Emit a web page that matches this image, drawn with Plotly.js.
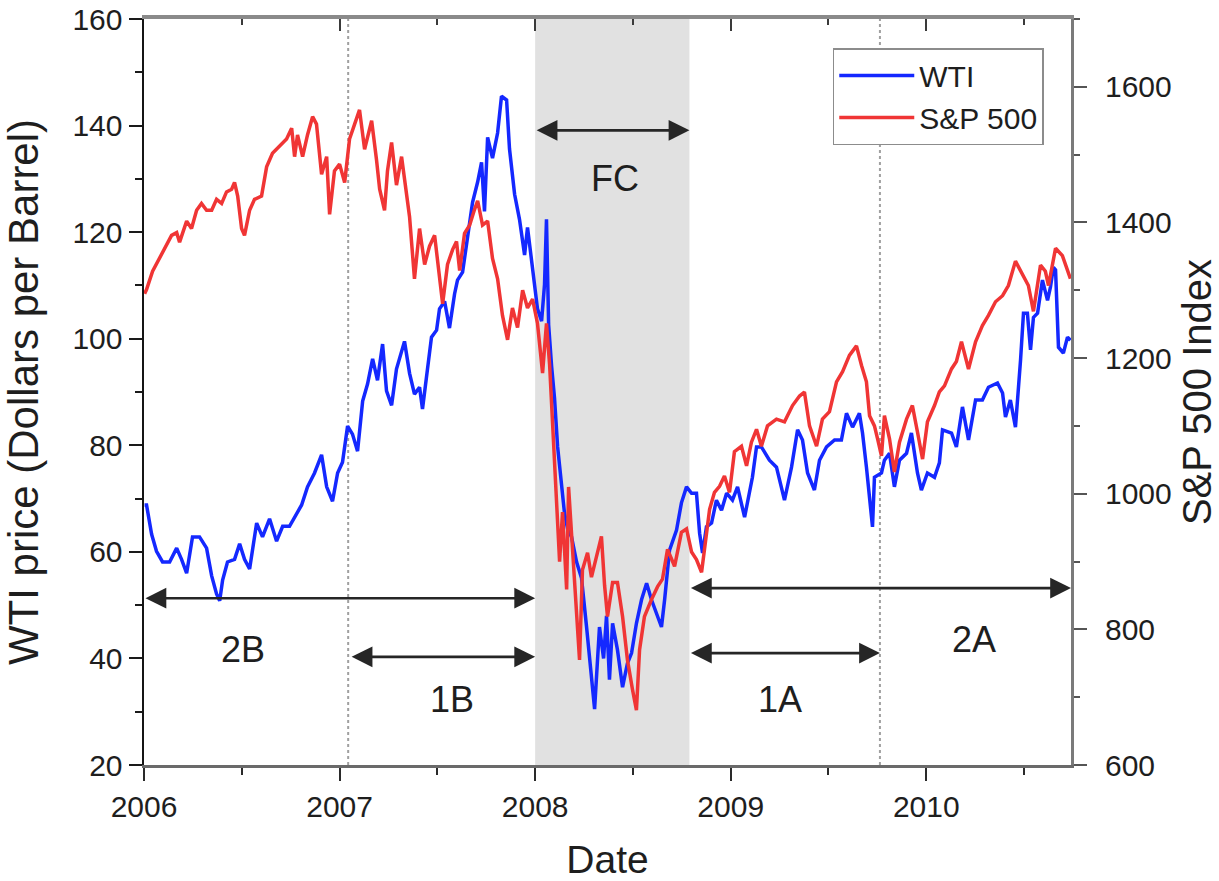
<!DOCTYPE html>
<html>
<head>
<meta charset="utf-8">
<script src="https://cdn.plot.ly/plotly-3.0.1.min.js"></script>
<style>html,body{margin:0;padding:0;background:#fff;}#chart{width:1219px;height:881px;}</style>
</head>
<body>
<div id="chart"></div>
<script>
// ---- data (decimal years) ----
const wtiYear = [2006.003,2006.013,2006.039,2006.064,2006.095,2006.131,2006.167,2006.192,2006.218,2006.248,2006.284,2006.320,2006.346,2006.371,2006.387,2006.402,2006.427,2006.463,2006.489,2006.514,2006.540,2006.576,2006.606,2006.642,2006.678,2006.709,2006.744,2006.780,2006.806,2006.836,2006.872,2006.908,2006.934,2006.964,2006.990,2007.015,2007.041,2007.066,2007.092,2007.118,2007.143,2007.169,2007.194,2007.220,2007.240,2007.266,2007.291,2007.332,2007.358,2007.383,2007.409,2007.424,2007.445,2007.470,2007.496,2007.511,2007.537,2007.562,2007.588,2007.603,2007.629,2007.654,2007.680,2007.706,2007.726,2007.741,2007.757,2007.782,2007.808,2007.828,2007.854,2007.869,2007.895,2007.920,2007.946,2007.961,2007.982,2007.997,2008.012,2008.033,2008.048,2008.058,2008.069,2008.084,2008.099,2008.115,2008.135,2008.150,2008.166,2008.186,2008.212,2008.237,2008.263,2008.278,2008.304,2008.329,2008.350,2008.365,2008.380,2008.396,2008.421,2008.447,2008.472,2008.493,2008.518,2008.544,2008.570,2008.595,2008.626,2008.646,2008.662,2008.687,2008.723,2008.748,2008.774,2008.800,2008.825,2008.841,2008.856,2008.876,2008.902,2008.927,2008.953,2008.979,2009.009,2009.035,2009.071,2009.096,2009.111,2009.132,2009.157,2009.198,2009.234,2009.275,2009.311,2009.342,2009.367,2009.393,2009.428,2009.454,2009.490,2009.531,2009.566,2009.592,2009.623,2009.658,2009.674,2009.694,2009.710,2009.725,2009.735,2009.771,2009.786,2009.812,2009.837,2009.863,2009.899,2009.924,2009.955,2009.975,2010.006,2010.042,2010.067,2010.083,2010.129,2010.154,2010.185,2010.216,2010.252,2010.287,2010.318,2010.364,2010.390,2010.405,2010.430,2010.456,2010.482,2010.497,2010.517,2010.533,2010.548,2010.569,2010.594,2010.620,2010.635,2010.650,2010.661,2010.676,2010.701,2010.722,2010.737];
const wtiPrice = [68.8,68.8,63.3,60.1,58.1,58.1,60.7,58.6,56.0,62.8,62.8,60.7,55.5,52.1,50.8,54.7,58.1,58.6,61.5,58.6,56.8,65.4,62.8,66.2,62.0,64.8,64.8,67.0,68.8,72.2,74.8,78.2,72.2,69.5,74.8,76.8,83.6,82.1,78.9,88.3,91.5,96.2,92.2,99.0,90.2,87.5,94.3,99.5,93.5,89.6,90.9,86.8,93.0,100.3,101.6,105.6,107.0,102.0,108.4,111.0,112.5,119.4,125.6,129.4,133.1,123.9,137.8,133.9,138.6,145.5,144.8,135.6,127.1,122.4,115.7,120.9,114.7,110.2,105.6,103.3,110.2,122.4,102.6,94.9,88.9,79.7,72.0,67.3,64.3,62.8,58.1,55.1,45.9,39.7,30.5,45.9,40.0,48.0,36.0,46.6,41.6,34.6,39.1,41.0,46.6,51.0,54.1,51.0,47.8,45.9,51.0,60.3,64.1,69.2,72.2,71.0,71.0,63.5,59.8,64.7,65.4,69.7,67.8,71.0,69.7,72.2,66.5,71.0,74.0,79.7,79.7,77.2,75.9,69.7,75.9,82.9,81.0,74.8,71.6,77.2,79.7,81.0,81.0,86.0,83.4,86.0,82.3,75.9,69.7,64.7,74.0,74.8,77.2,78.5,72.2,77.2,78.5,82.3,74.8,71.6,74.8,74.0,76.7,82.9,82.3,79.7,87.2,81.0,88.5,88.5,90.9,91.7,89.8,85.3,88.5,83.4,96.0,104.8,104.8,97.9,104.0,104.8,111.0,107.2,109.7,113.4,112.9,98.4,97.3,100.3,99.7];

const spYear = [2006.003,2006.013,2006.044,2006.080,2006.105,2006.141,2006.167,2006.182,2006.218,2006.243,2006.269,2006.294,2006.320,2006.346,2006.371,2006.397,2006.422,2006.448,2006.463,2006.479,2006.499,2006.514,2006.540,2006.565,2006.601,2006.627,2006.657,2006.693,2006.729,2006.755,2006.770,2006.785,2006.811,2006.836,2006.862,2006.882,2006.908,2006.934,2006.949,2006.974,2007.000,2007.026,2007.051,2007.077,2007.102,2007.128,2007.164,2007.189,2007.205,2007.230,2007.245,2007.266,2007.291,2007.317,2007.343,2007.358,2007.383,2007.409,2007.435,2007.460,2007.486,2007.511,2007.527,2007.552,2007.578,2007.598,2007.614,2007.639,2007.665,2007.690,2007.706,2007.731,2007.757,2007.782,2007.808,2007.833,2007.859,2007.884,2007.910,2007.936,2007.961,2007.987,2008.012,2008.038,2008.058,2008.074,2008.089,2008.109,2008.125,2008.140,2008.161,2008.171,2008.191,2008.212,2008.227,2008.242,2008.268,2008.288,2008.314,2008.339,2008.355,2008.370,2008.396,2008.421,2008.447,2008.472,2008.498,2008.518,2008.534,2008.559,2008.595,2008.626,2008.651,2008.677,2008.713,2008.748,2008.774,2008.800,2008.825,2008.851,2008.866,2008.892,2008.917,2008.943,2008.968,2008.994,2009.019,2009.055,2009.081,2009.106,2009.132,2009.157,2009.188,2009.234,2009.275,2009.316,2009.352,2009.377,2009.403,2009.439,2009.469,2009.505,2009.541,2009.572,2009.607,2009.643,2009.669,2009.694,2009.710,2009.735,2009.751,2009.771,2009.786,2009.812,2009.837,2009.863,2009.899,2009.929,2009.955,2009.981,2010.006,2010.042,2010.067,2010.093,2010.129,2010.154,2010.180,2010.216,2010.252,2010.287,2010.318,2010.354,2010.390,2010.420,2010.456,2010.492,2010.522,2010.548,2010.584,2010.609,2010.625,2010.661,2010.696,2010.737];
const spIndex = [1295,1301,1328,1348,1360,1381,1385,1371,1402,1391,1418,1428,1418,1418,1434,1428,1445,1449,1459,1439,1391,1381,1418,1434,1439,1482,1502,1513,1523,1539,1497,1529,1497,1529,1556,1545,1471,1497,1412,1476,1486,1459,1523,1545,1566,1508,1550,1492,1449,1418,1476,1518,1455,1497,1439,1408,1317,1391,1338,1365,1381,1323,1280,1338,1360,1372,1329,1384,1396,1419,1432,1396,1402,1347,1317,1263,1227,1274,1245,1300,1274,1287,1251,1178,1251,1190,1106,1010,900,973,859,1010,920,841,755,888,913,877,906,937,865,819,869,869,819,755,711,681,770,819,844,863,874,918,893,943,948,914,903,884,918,977,1002,1011,1026,1002,1062,1070,1041,1076,1095,1070,1100,1110,1106,1130,1144,1150,1100,1070,1110,1121,1165,1180,1204,1218,1189,1165,1115,1100,1081,1056,1115,1081,1032,1076,1110,1130,1091,1051,1106,1130,1150,1159,1184,1195,1224,1184,1224,1248,1263,1283,1292,1307,1343,1322,1307,1269,1337,1328,1307,1362,1351,1317];

// periods and labels
const periodNames = ['FC','2B','1B','1A','2A'];
const periodStart = [2008.0, 2006.0, 2007.054, 2008.789, 2008.789];
const periodEnd   = [2008.789, 2008.0, 2008.0, 2009.763, 2010.74];
const arrowLevel  = [139.1, 51.3, 40.3, 41.0, 53.2];
const labelX      = [2008.41, 2006.506, 2007.573, 2009.25, 2010.246];
const labelY      = [130.0, 41.6, 32.2, 32.2, 43.5];
const crisisBand  = [2008.0, 2008.789];
const markerLines = [2007.044, 2009.763];
const xTicks = [2006, 2007, 2008, 2009, 2010];

const FONT = '"Liberation Sans", Arial, Helvetica, sans-serif';
const TXT = '#1e1e1e';

const traces = [
  {x: wtiYear, y: wtiPrice, type: 'scatter', mode: 'lines', name: 'WTI',
   line: {color: '#1428ff', width: 3.5}, xaxis: 'x', yaxis: 'y'},
  {x: spYear, y: spIndex, type: 'scatter', mode: 'lines', name: 'S&P 500',
   line: {color: '#f03535', width: 3.5}, xaxis: 'x', yaxis: 'y2'},
  // empty trace so that the mirrored top axis (inward ticks) is drawn
  {x: [], y: [], type: 'scatter', mode: 'lines', xaxis: 'x2', yaxis: 'y',
   showlegend: false, hoverinfo: 'skip'}
];

const shapes = [
  {type: 'rect', xref: 'x', yref: 'paper', x0: crisisBand[0], x1: crisisBand[1], y0: 0, y1: 1,
   fillcolor: '#e1e1e1', line: {width: 0}, layer: 'below'}
];
markerLines.forEach(v => shapes.push({type: 'line', xref: 'x', yref: 'paper', x0: v, x1: v, y0: 0, y1: 1,
  line: {color: '#a0a0a0', width: 2, dash: 'dot'}, layer: 'below'}));

const annotations = [];
periodNames.forEach((n, i) => {
  annotations.push({x: periodEnd[i], y: arrowLevel[i], ax: periodStart[i], ay: arrowLevel[i],
    xref: 'x', yref: 'y', axref: 'x', ayref: 'y', text: '', showarrow: true,
    arrowhead: 2, startarrowhead: 2, arrowside: 'end+start', arrowsize: 1.6, startarrowsize: 1.6,
    arrowwidth: 2.6, arrowcolor: '#262626', standoff: 0, startstandoff: 0});
  annotations.push({x: labelX[i], y: labelY[i], xref: 'x', yref: 'y', text: n, showarrow: false,
    font: {family: FONT, size: 36, color: TXT}});
});

const layout = {
  width: 1219, height: 881,
  margin: {l: 144, r: 148, t: 19, b: 116, pad: 0},
  paper_bgcolor: '#fff', plot_bgcolor: '#fff',
  font: {family: FONT, size: 30, color: TXT},
  showlegend: true,
  legend: {x: 0.743, y: 0.961, xanchor: 'left', yanchor: 'top', bgcolor: '#fff',
    bordercolor: '#8c8c8c', borderwidth: 1.5, font: {family: FONT, size: 30, color: TXT},
    itemwidth: 75, tracegroupgap: 0},
  xaxis: {
    range: [2006, 2010.74], tickvals: xTicks, ticktext: xTicks.map(String),
    ticks: 'outside', ticklen: 13, tickwidth: 2, tickcolor: '#2a2a2a',
    minor: {dtick: 0.5, tick0: 2006, ticks: 'outside', ticklen: 7, tickwidth: 2, tickcolor: '#2a2a2a'},
    showline: true, linecolor: '#6a6a6a', linewidth: 3, showgrid: false, zeroline: false,
    tickfont: {size: 30}, title: {text: 'Date', font: {size: 39}}
  },
  xaxis2: {
    overlaying: 'x', side: 'top', anchor: 'y', range: [2006, 2010.74], tickvals: xTicks,
    ticks: 'inside', ticklen: 12, tickwidth: 2, tickcolor: '#3a3a3a', showticklabels: false,
    minor: {dtick: 0.5, tick0: 2006, ticks: 'inside', ticklen: 6, tickwidth: 2, tickcolor: '#3a3a3a'},
    showline: true, linecolor: '#8a8a8a', linewidth: 4, showgrid: false, zeroline: false
  },
  yaxis: {
    range: [20, 160], dtick: 20, tick0: 20, ticks: 'outside', ticklen: 13, tickwidth: 2, tickcolor: '#1a1a1a',
    minor: {dtick: 10, tick0: 20, ticks: 'outside', ticklen: 7, tickwidth: 2, tickcolor: '#1a1a1a'},
    showline: true, linecolor: '#151515', linewidth: 2.5, showgrid: false, zeroline: false,
    tickfont: {size: 30}, title: {text: 'WTI price (Dollars per Barrel)', font: {size: 42}, standoff: 30}
  },
  yaxis2: {
    overlaying: 'y', side: 'right', anchor: 'x', range: [600, 1700], dtick: 200, tick0: 600,
    ticks: 'outside', ticklen: 13, tickwidth: 2, tickcolor: '#555', ticklabelstandoff: 12,
    minor: {dtick: 100, tick0: 600, ticks: 'outside', ticklen: 6, tickwidth: 2, tickcolor: '#555'},
    showline: true, linecolor: '#7a7a7a', linewidth: 3, showgrid: false, zeroline: false,
    tickfont: {size: 30}, title: {text: 'S&P 500 Index', font: {size: 40}, standoff: 20}
  },
  shapes: shapes,
  annotations: annotations
};

Plotly.newPlot('chart', traces, layout, {staticPlot: true, displayModeBar: false});
</script>
</body>
</html>
